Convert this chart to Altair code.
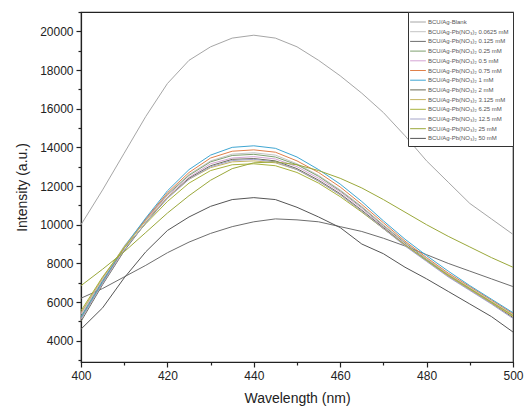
import altair as alt
import pandas as pd

wavelengths = [400, 405, 410, 415, 420, 425, 430, 435, 440, 445, 450,
               455, 460, 465, 470, 475, 480, 485, 490, 495, 500]

series_names = [
    "BCU/Ag-Blank",
    "BCU/Ag-Pb(NO₃)₂ 0.0625 mM",
    "BCU/Ag-Pb(NO₃)₂ 0.125 mM",
    "BCU/Ag-Pb(NO₃)₂ 0.25 mM",
    "BCU/Ag-Pb(NO₃)₂ 0.5 mM",
    "BCU/Ag-Pb(NO₃)₂ 0.75 mM",
    "BCU/Ag-Pb(NO₃)₂ 1 mM",
    "BCU/Ag-Pb(NO₃)₂ 2 mM",
    "BCU/Ag-Pb(NO₃)₂ 3.125 mM",
    "BCU/Ag-Pb(NO₃)₂ 6.25 mM",
    "BCU/Ag-Pb(NO₃)₂ 12.5 mM",
    "BCU/Ag-Pb(NO₃)₂ 25 mM",
    "BCU/Ag-Pb(NO₃)₂ 50 mM",
]

series_colors = ["#a6a6a6", "#c4c4c4", "#6e6e6e", "#7fa070", "#d4a4d4",
                 "#e0804a", "#3fa6d2", "#6a6a55", "#c4b464", "#a8b23c",
                 "#a4a4c8", "#9aa83a", "#555555"]

blank = [10000, 11800, 13700, 15600, 17300, 18500, 19200, 19650, 19800, 19650, 19200,
         18500, 17700, 16800, 15800, 14600, 13300, 12200, 11100, 10300, 9500]
c_00625 = [5350, 7150, 8900, 10300, 11600, 12600, 13300, 13650, 13720, 13600, 13150,
           12550, 11800, 10950, 10000, 9100, 8250, 7450, 6750, 6050, 5350]
c_0125 = [6200, 6700, 7300, 7900, 8550, 9100, 9550, 9900, 10150, 10300, 10250,
          10150, 9900, 9650, 9300, 8900, 8450, 8000, 7600, 7200, 6800]
c_025 = [5250, 7100, 8800, 10250, 11550, 12550, 13250, 13580, 13640, 13500, 13100,
         12500, 11750, 10900, 9950, 9050, 8200, 7400, 6700, 6000, 5300]
c_05 = [5400, 7200, 8850, 10250, 11500, 12450, 13150, 13450, 13520, 13400, 13000,
        12400, 11700, 10850, 9900, 9000, 8150, 7400, 6650, 5950, 5250]
c_075 = [5150, 7000, 8800, 10300, 11650, 12700, 13450, 13800, 13870, 13750, 13300,
         12700, 11950, 11050, 10100, 9150, 8300, 7500, 6800, 6100, 5400]
c_1 = [5200, 7050, 8850, 10350, 11750, 12850, 13600, 14000, 14080, 13950, 13500,
       12850, 12100, 11200, 10200, 9250, 8400, 7600, 6850, 6150, 5450]
c_2 = [5000, 6900, 8650, 10100, 11400, 12400, 13050, 13380, 13420, 13300, 12900,
       12300, 11600, 10750, 9850, 8950, 8150, 7350, 6650, 5950, 5200]
c_3125 = [5450, 7250, 8850, 10200, 11400, 12350, 12950, 13250, 13300, 13200, 12850,
          12250, 11550, 10700, 9800, 8950, 8150, 7350, 6650, 5950, 5250]
c_625 = [5550, 7300, 8800, 10050, 11200, 12150, 12800, 13100, 13150, 13050, 12700,
         12150, 11450, 10650, 9800, 8950, 8150, 7400, 6700, 6000, 5300]
c_125 = [5100, 6950, 8700, 10100, 11350, 12350, 13000, 13320, 13380, 13250, 12850,
         12250, 11550, 10700, 9800, 8900, 8100, 7300, 6600, 5900, 5150]
c_25 = [6850, 7700, 8600, 9600, 10600, 11500, 12300, 12900, 13200, 13250, 13100,
        12800, 12400, 11900, 11300, 10650, 10000, 9400, 8850, 8300, 7800]
c_50 = [4600, 5700, 7250, 8600, 9700, 10400, 10950, 11300, 11400, 11300, 10900,
        10400, 9850, 9000, 8500, 7800, 7200, 6550, 5900, 5250, 4450]

all_series = [blank, c_00625, c_0125, c_025, c_05, c_075, c_1, c_2, c_3125,
              c_625, c_125, c_25, c_50]

x_ticks = [400, 410, 420, 430, 440, 450, 460, 470, 480, 490, 500]
y_ticks = [3000, 4000, 5000, 6000, 7000, 8000, 9000, 10000, 11000, 12000, 13000,
           14000, 15000, 16000, 17000, 18000, 19000, 20000, 21000]

rows = []
for name, vals in zip(series_names, all_series):
    for w, v in zip(wavelengths, vals):
        rows.append({"series": name, "wavelength": w, "intensity": v})
df = pd.DataFrame(rows)

x_scale = alt.Scale(domain=[400, 500], nice=False, zero=False)
y_scale = alt.Scale(domain=[2900, 21000], nice=False, zero=False)

chart = alt.Chart(df).mark_line(strokeWidth=1).encode(
    x=alt.X("wavelength:Q", scale=x_scale,
            axis=alt.Axis(values=x_ticks, title="Wavelength (nm)", orient="bottom",
                          tickSize={"condition": {"test": "datum.value % 20 === 0", "value": 5}, "value": 3},
                          labelExpr="datum.value % 20 === 0 ? datum.label : ''",
                          labelFlush=False, labelPadding=3, titlePadding=10, format="d")),
    y=alt.Y("intensity:Q", scale=y_scale,
            axis=alt.Axis(values=y_ticks, title="Intensity (a.u.)", orient="left",
                          tickSize={"condition": {"test": "datum.value % 2000 === 0", "value": 5}, "value": 3},
                          labelExpr="datum.value % 2000 === 0 ? datum.label : ''",
                          labelFlush=False, labelPadding=3, titlePadding=10, format="d")),
    color=alt.Color("series:N",
                    scale=alt.Scale(domain=series_names, range=series_colors),
                    sort=series_names,
                    legend=alt.Legend(title=None, orient="top-right", offset=0,
                                      symbolType="M-1.5,0H1.5", symbolStrokeWidth=1,
                                      symbolSize=110, labelFontSize=6,
                                      labelFont="Liberation Sans", labelColor="#555",
                                      rowPadding=0.7, padding=4, labelOffset=4,
                                      strokeColor="#333", fillColor="white")),
).properties(
    width=432, height=350,
    autosize=alt.AutoSizeParams(type="none"),
    padding={"left": 73, "top": 4, "right": 11, "bottom": 49},
).configure_view(stroke="#222", strokeWidth=1.2).configure_axis(
    grid=False, domainColor="#222", tickColor="#222", domainWidth=1.2, tickWidth=1.2,
    labelFont="Liberation Sans", labelFontSize=12, labelColor="#222",
    titleFont="Liberation Sans", titleFontSize=14, titleFontWeight="normal",
    titleColor="#222",
)

chart.save("out.html", embed_options={"renderer": "svg", "actions": False})
